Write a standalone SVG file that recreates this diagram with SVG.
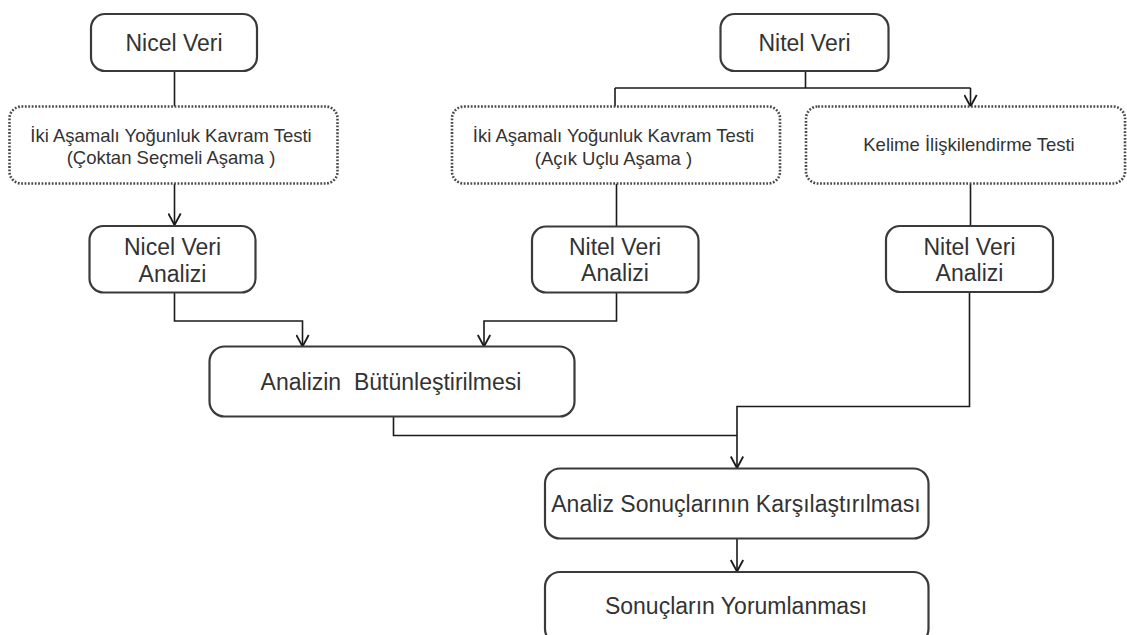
<svg xmlns="http://www.w3.org/2000/svg" width="1127" height="635" viewBox="0 0 1127 635">
<defs>
<marker id="arr" markerWidth="14" markerHeight="14" viewBox="0 0 14 14" refX="12.5" refY="7" orient="auto" markerUnits="userSpaceOnUse">
<path d="M1,0.8 L12.5,7 L1,13.2" fill="none" stroke="#1a1a1a" stroke-width="1.8"/>
</marker>
</defs>
<style>
.box{fill:#fff;stroke:#3a3a3a;stroke-width:2.2}
.dot{fill:#fff;stroke:#4a4a4a;stroke-width:2.6;stroke-dasharray:1.8 1.6}
.t{font-family:"Liberation Sans",Arial,sans-serif;fill:#333;text-anchor:middle}
.big{font-size:23px}
.sm{font-size:18.5px}
.c{fill:none;stroke:#1a1a1a;stroke-width:1.6}
</style>
<rect width="1127" height="635" fill="#fff"/>
<g id="connectors">
<path class="c" d="M174.5,71 V106.5"/>
<path class="c" d="M174.5,183.5 V225" marker-end="url(#arr)"/>
<path class="c" d="M805.5,71 V88 M615,88 H970.5"/>
<path class="c" d="M615,88 V106.5"/>
<path class="c" d="M970.5,88 V106.5" marker-end="url(#arr)"/>
<path class="c" d="M616.5,183.5 V226.5"/>
<path class="c" d="M970.5,183.5 V226"/>
<path class="c" d="M174.5,292.5 V321 H302.5 V346.5" marker-end="url(#arr)"/>
<path class="c" d="M616.5,292.5 V321 H484 V346.5" marker-end="url(#arr)"/>
<path class="c" d="M969.5,292 V406.5 H737 V468" marker-end="url(#arr)"/>
<path class="c" d="M393.5,416.5 V435.5 H737"/>
<path class="c" d="M737,538.5 V571.5" marker-end="url(#arr)"/>
</g>
<g id="nicel-veri">
<rect class="box" x="91" y="14" width="166" height="57" rx="14"/>
<text class="t big" x="174" y="51">Nicel Veri</text>
</g>
<g id="nitel-veri">
<rect class="box" x="720.5" y="14" width="168" height="57" rx="14"/>
<text class="t big" x="804.5" y="50.5">Nitel Veri</text>
</g>
<g id="test-coktan">
<rect class="dot" x="9.5" y="106.5" width="328" height="77" rx="12"/>
<text class="t sm" x="171" y="141.5">İki Aşamalı Yoğunluk Kavram Testi</text>
<text class="t sm" x="171" y="164">(Çoktan Seçmeli Aşama )</text>
</g>
<g id="test-acik">
<rect class="dot" x="452" y="106.5" width="328" height="77" rx="12"/>
<text class="t sm" x="613.5" y="141.5">İki Aşamalı Yoğunluk Kavram Testi</text>
<text class="t sm" x="613.5" y="164.5">(Açık Uçlu Aşama )</text>
</g>
<g id="kelime-testi">
<rect class="dot" x="806" y="106.5" width="319" height="77" rx="12"/>
<text class="t sm" x="969" y="150.5">Kelime İlişkilendirme Testi</text>
</g>
<g id="nicel-analiz">
<rect class="box" x="89.5" y="226" width="166" height="66.5" rx="14"/>
<text class="t big" x="172.5" y="255">Nicel Veri</text>
<text class="t big" x="172.5" y="281.5">Analizi</text>
</g>
<g id="nitel-analiz-1">
<rect class="box" x="532" y="226.5" width="166.5" height="66" rx="14"/>
<text class="t big" x="615" y="254.5">Nitel Veri</text>
<text class="t big" x="615" y="281">Analizi</text>
</g>
<g id="nitel-analiz-2">
<rect class="box" x="886" y="226" width="167" height="66" rx="14"/>
<text class="t big" x="969.5" y="254.5">Nitel Veri</text>
<text class="t big" x="969.5" y="281">Analizi</text>
</g>
<g id="butunlestirme">
<rect class="box" x="209.5" y="346.5" width="365" height="70" rx="15"/>
<text class="t big" x="391" y="390" xml:space="preserve">Analizin  Bütünleştirilmesi</text>
</g>
<g id="karsilastirma">
<rect class="box" x="545" y="468.5" width="383.5" height="70" rx="15"/>
<text class="t big" x="736" y="511.5">Analiz Sonuçlarının Karşılaştırılması</text>
</g>
<g id="yorumlama">
<rect class="box" x="545" y="572" width="383.5" height="72" rx="15"/>
<text class="t big" x="736" y="613.5">Sonuçların Yorumlanması</text>
</g>
</svg>
